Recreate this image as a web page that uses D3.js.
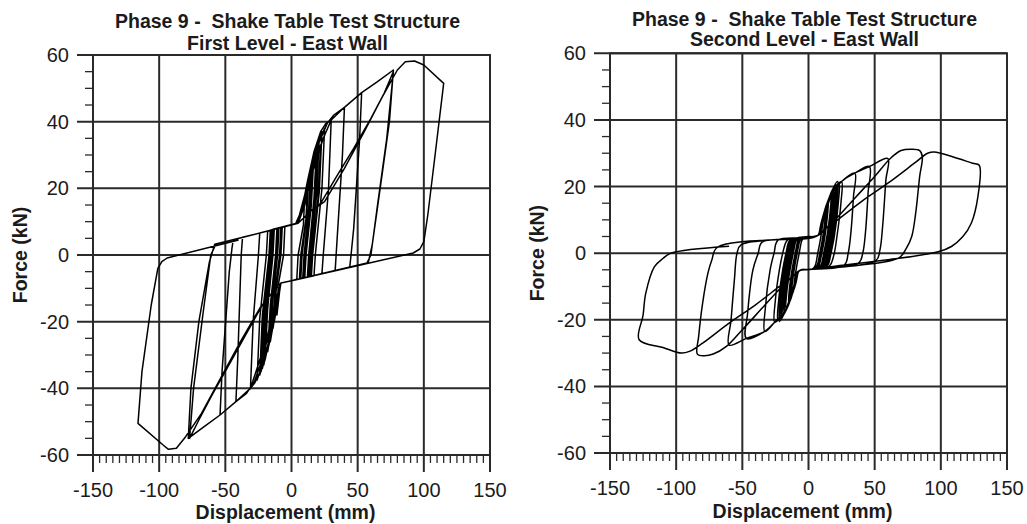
<!DOCTYPE html>
<html>
<head>
<meta charset="utf-8">
<script src="https://cdn.jsdelivr.net/npm/d3@7"></script>
<style>
  html, body { margin: 0; padding: 0; background: #fff; }
  svg { display: block; font-family: "Liberation Sans", Arial, sans-serif; }
  text { white-space: pre; }
</style>
</head>
<body>
<svg id="chart" width="1027" height="524"></svg>
<script>
// ---- data (displacement mm, force kN) ----
const xTicks = [-150, -100, -50, 0, 50, 100, 150];
const yTicks = [-60, -40, -20, 0, 20, 40, 60];
const titleLine1 = 'Phase 9 -  Shake Table Test Structure';
const panelTitles = ['First Level - East Wall', 'Second Level - East Wall'];
const xTitle = 'Displacement (mm)';
const yTitle = 'Force (kN)';

// first level: one loop per excitation cycle
const firstLevel = [
  [[-2,8.9],[3,9.3],[6,12],[8,15],[10,18],[9,9],[5,0],[4,-7.3],[0,-7.7],[-8,-8.4],[-9,-11],[-10,-14.5],[-11,-18],[-10,-9],[-6,0],[-5,8.6]],
  [[4,9.5],[6.5,12.5],[9,16],[12,20],[11,11],[7,0],[6,-7.2],[0,-7.7],[-8,-8.4],[-9.5,-11.5],[-11,-15.5],[-13,-20],[-11.5,-10],[-8,0],[-7,8.4]],
  [[4,9.5],[7,13],[10,18],[13,23],[11.5,12],[8,0],[7,-7.1],[0,-7.7],[-8,-8.4],[-10,-12],[-12,-17],[-14,-22],[-12.5,-11],[-9,0],[-8,8.3]],
  [[5,9.5],[8,14],[12,21],[15,27],[13,14],[9.5,0],[8.5,-7],[0,-7.7],[-8,-8.4],[-10,-12.5],[-13,-19],[-16,-26],[-14,-13],[-10.5,0],[-9.5,8.1]],
  [[5,9.5],[8.5,14.5],[12.5,22],[16,28],[14,14],[10.5,0],[9.5,-6.9],[0,-7.7],[-8,-8.4],[-10.5,-12.5],[-13.5,-20],[-17,-27],[-15,-14],[-11.5,0],[-10.5,8]],
  [[5,9.5],[9,15],[13,23],[17,30.5],[15,15],[11,0],[10,-6.8],[0,-7.7],[-8,-8.4],[-11,-13],[-14,-20],[-18,-29],[-16,-15],[-12,0],[-11,8]],
  [[5,9.5],[9,15.5],[14,25],[19,33],[17,17],[13,0],[12,-6.6],[0,-7.7],[-8,-8.4],[-11,-13.5],[-15,-22],[-20,-31.5],[-18,-16],[-14,0],[-13,7.8]],
  [[5,9.5],[9.5,16],[14.5,26],[20,34],[18,17.5],[13.5,0],[12.5,-6.6],[0,-7.7],[-8,-8.4],[-11.5,-13.5],[-15.5,-23],[-21,-33],[-19,-16.5],[-15,0],[-14,7.7]],
  [[5,9.5],[10,16.5],[15,27],[21,35.5],[19,18],[14.5,0],[13.5,-6.5],[0,-7.7],[-8,-8.4],[-12,-14],[-16,-24],[-22,-34],[-20,-17],[-15.5,0],[-14.5,7.6]],
  [[5,9.5],[10,16.5],[15.5,27],[22,33],[20,17],[15.5,0],[14.5,-6.4],[0,-7.7],[-8,-8.4],[-12,-14],[-16.5,-25],[-23,-35],[-21,-17.5],[-16.5,0],[-15.5,7.5]],
  [[5,9.5],[10,17],[16,29],[23,37],[21,19],[16,0],[15,-6.4],[0,-7.7],[-8,-8.4],[-12,-14.5],[-17,-26],[-24,-36],[-22,-18],[-17,0],[-16,7.4]],
  [[5,9.5],[11,18],[18,31],[25,38],[23,20],[18,0],[17,-6.2],[0,-7.7],[-8,-8.4],[-13,-15],[-18,-28],[-26,-37.5],[-24,-19],[-19,0],[-18,7.2]],
  [[5,9.5],[8,14],[12,22],[17,31],[22,37],[26,39.5],[30,40.5],[28,20],[24,0],[23,-5.6],[0,-7.7],[-8,-8.4],[-10,-12],[-14,-20],[-19,-29],[-24,-35.5],[-28,-38.5],[-31,-40],[-29,-20],[-25,0],[-24,6.6]],
  [[5,9.5],[9,15],[14,24],[20,33],[27,39.5],[32,42],[40,44.3],[38.5,30],[34.5,5],[33,-4.7],[0,-7.7],[-8,-8.4],[-11,-13],[-16,-22],[-22,-31],[-28,-38],[-34,-41.5],[-42,-44],[-40.5,-30],[-38,0],[-37,5.3]],
  [[5,9.5],[10,16],[16,26],[24,35],[30,40.5],[40,44.3],[53,48.7],[51.5,35],[47,8],[45,0],[44,-3.7],[0,-7.7],[-8,-8.4],[-12,-14],[-18,-24],[-26,-34],[-31,-40],[-42,-44],[-54,-48],[-52.5,-35],[-47,-5],[-45,2],[-44,4.6]],
  [[5,9.5],[10,15],[16,25],[24,35],[30,40.5],[40,44.3],[53,48.7],[65,52],[77,55.5],[74,40],[67,20],[61,3],[58,-2.3],[0,-7.7],[-8,-8.4],[-12,-14],[-18,-24],[-26,-34],[-31,-40],[-42,-44],[-54,-48],[-66,-51.5],[-78,-55],[-76,-40],[-70,-20],[-62,-2],[-58,3.2]],
  [[5,9.5],[14,13],[22,15.5],[34,23.5],[47,32],[60,41],[70,48.5],[77,55],[72,35],[65,15],[60,0],[57,-2.4],[0,-7.7],[-8,-8.4],[-15,-11.5],[-22,-15],[-34,-23.5],[-48,-33.5],[-60,-42],[-70,-49.5],[-77,-55],[-74,-40],[-67,-18],[-61,0],[-57,3.3]],
  [[5,9.5],[14,13],[25,16],[40,26],[55,37],[68,47],[80,55.5],[86,58],[93,58.2],[100,57],[115,51.5],[108.5,30],[103,12],[100,4],[97,1.8],[92,0.6],[0,-7.7],[-8,-8.4],[-15,-11.5],[-24,-16],[-40,-27],[-55,-38],[-68,-47.5],[-80,-54.5],[-87,-58],[-93,-58.3],[-97,-57],[-116,-50.5],[-113,-35],[-106,-15],[-101,-4],[-98,-2],[-94,-0.9],[-40,4.5]]
];

// second level
const secondLevel = [
  [[-3,4.9],[7,5.3],[9,8],[11,11],[10.5,8],[8.5,3],[7,0],[5,-3.8],[3,-4.7],[0,-4.9],[-7,-5.3],[-9,-8],[-11,-11],[-10.5,-8],[-8.5,-3],[-7,0],[-5,3.8],[-3,4.8]],
  [[7,5.3],[9.5,8.5],[11.5,11.5],[13,13.5],[12.5,10],[10,3],[8.5,0],[6.5,-3.7],[4,-4.6],[0,-4.9],[-7,-5.3],[-9.5,-8.5],[-11.5,-11.5],[-13,-13],[-12.5,-10],[-10,-3],[-8.5,0],[-6.5,3.7],[-4,4.8]],
  [[7,5.3],[9.5,9],[12,12.5],[14,15],[13.5,11],[11,3.5],[9,0],[7,-3.6],[5,-4.6],[0,-4.9],[-7,-5.3],[-9.5,-9],[-12,-12],[-14,-14.5],[-13.5,-10.5],[-11,-3.5],[-9,0],[-7,3.6],[-5,4.7]],
  [[7,5.3],[10,9],[12.5,13],[15,16],[14.5,12],[12,4],[10,0],[8,-3.6],[6,-4.5],[0,-4.9],[-7,-5.3],[-10,-9],[-12.5,-12.5],[-15,-15],[-14.5,-11],[-12,-4],[-10,0],[-8,3.6],[-6,4.7]],
  [[7,5.3],[10,9],[13.5,14],[17,18],[16.5,13],[13.5,4],[11.5,0],[9.5,-3.5],[7,-4.5],[0,-4.9],[-7,-5.3],[-10,-9.5],[-13.5,-13.5],[-17,-17],[-16.5,-12],[-13.5,-4],[-11.5,0],[-9.5,3.5],[-7,4.6]],
  [[7,5.3],[10.5,9.5],[14,14.5],[18,19],[17.5,13.5],[14.5,4.5],[12.5,0],[10,-3.5],[8,-4.5],[0,-4.9],[-7,-5.3],[-10.5,-9.5],[-14,-14],[-18,-18],[-17.5,-12.5],[-14.5,-4.5],[-12.5,0],[-10,3.5],[-8,4.6]],
  [[7,5.3],[10.5,9.5],[14.5,15],[19,19.5],[18.5,14],[15.5,5],[13.5,0],[11,-3.5],[9,-4.4],[0,-4.9],[-7,-5.3],[-10.5,-10],[-14.5,-14.5],[-19,-18.5],[-18.5,-13],[-15.5,-5],[-13.5,0],[-11,3.5],[-9,4.5]],
  [[7,5.3],[11,10],[15,16],[20,20],[19.5,14.5],[16.5,5],[14.5,0],[12,-3.4],[10,-4.3],[0,-4.9],[-7,-5.3],[-11,-10],[-15,-15.5],[-20,-19],[-19.5,-13.5],[-16.5,-5],[-14.5,0],[-12,3.4],[-10,4.4]],
  [[7,5.3],[11,10],[16,16.5],[21,20.5],[20.5,15],[17.5,5],[15.5,0],[13,-3.4],[11,-4.3],[0,-4.9],[-7,-5.3],[-11,-10.5],[-16,-16],[-21,-19.5],[-20.5,-14],[-17.5,-5],[-15.5,0],[-13,3.4],[-11,4.4]],
  [[7,5.3],[11.5,10.5],[16.5,17.5],[22,21.5],[21.5,15.5],[18.5,5],[16,0],[14,-3.3],[12,-4.2],[0,-4.9],[-7,-5.3],[-11.5,-10.5],[-16.5,-16.5],[-22,-20.5],[-21.5,-14.5],[-18.5,-5],[-16,0],[-14,3.3],[-12,4.3]],
  [[7,5.3],[11.5,10.5],[17,17.5],[23,21],[22.5,15],[19.5,5],[17,0],[15,-3.3],[13,-4.2],[0,-4.9],[-7,-5.3],[-11.5,-11],[-17,-17],[-23,-20],[-22.5,-14],[-19.5,-5],[-17,0],[-15,3.3],[-13,4.3]],
  [[7,5.3],[12,11],[18,18],[25,21.5],[24.5,15],[21.5,5],[19.5,0],[17,-3.2],[15,-4.1],[0,-4.9],[-7,-5.3],[-12,-11],[-18,-17.5],[-25.5,-20.7],[-25,-14],[-22,-5],[-19.5,0],[-17,3.3],[-15,4.2]],
  [[7,5.3],[12,11],[18,18],[25,21.5],[35,24],[34,17],[32,6],[30,0],[27,-3.6],[0,-4.9],[-7,-5.3],[-12,-11],[-18,-17.5],[-25.5,-20.7],[-33,-23.5],[-32.5,-16],[-29,-5],[-26,0],[-23,3.9]],
  [[7,5.3],[12,11],[18,18],[25,21.5],[35,24],[46,26],[45,18],[43,6],[41,0],[38,-2.9],[0,-4.9],[-7,-5.3],[-12,-11],[-18,-17.5],[-25.5,-20.7],[-33,-23.5],[-47,-25.6],[-46,-18],[-42,-5],[-38,0],[-35,3.3]],
  [[7,5.3],[12,11],[18,18],[25,21.5],[35,24],[46,26],[60,28.4],[58.5,22],[56,8],[54,1],[51,-2.2],[0,-4.9],[-7,-5.3],[-12,-11],[-18,-17.5],[-25.5,-20.7],[-33,-23.5],[-47,-25.6],[-60,-27.6],[-58.5,-20],[-56,-8],[-54,0],[-51,2.5]],
  [[7,5.3],[12,7],[20,10],[35,16.5],[50,23],[62,28.5],[70,30.8],[78,31.2],[84,30.8],[86,29],[84,23],[81,12],[78,5],[74,1.5],[68,-1.5],[0,-4.9],[-7,-5.3],[-12,-7],[-20,-10],[-35,-16.5],[-50,-23],[-62,-28],[-72,-30.3],[-79,-30.8],[-84,-30.3],[-83,-25],[-80,-15],[-76,-6],[-73,-2],[-69,1.7]],
  [[7,5.3],[12,7],[22,10],[40,15.5],[60,21],[80,27],[90,30],[95,30.4],[110,28.8],[124,27],[129,26.4],[128,17],[123,9],[116.5,4.9],[108,2],[98,0.4],[60,-2],[20,-3.9],[0,-4.9],[-7,-5.3],[-12,-7],[-22,-10],[-40,-15.5],[-60,-21],[-80,-27],[-90,-29.5],[-96,-30],[-110,-28.3],[-128,-26],[-125,-18.6],[-123,-12.1],[-116.5,-4.1],[-110,-1.6],[-104,0],[-60,2.1]]
];

// ---- layout ----
const panels = [
  { loops: firstLevel,  sub: panelTitles[0], x0: 93,  x1: 490,  y0: 55,   y1: 455, t1: 27.5, t2: 50, xt: 519, curve: d3.curveLinear },
  { loops: secondLevel, sub: panelTitles[1], x0: 610, x1: 1007, y0: 53.3, y1: 453, t1: 26,   t2: 46, xt: 518, curve: d3.curveCatmullRom.alpha(0.5) }
];

const svg = d3.select('#chart');
const INK = '#1b1b1b';
const GRID = '#2a2a2a';

panels.forEach(p => {
  const x = d3.scaleLinear().domain([-150, 150]).range([p.x0, p.x1]);
  const y = d3.scaleLinear().domain([-60, 60]).range([p.y1, p.y0]);
  const g = svg.append('g');
  const cx = (p.x0 + p.x1) / 2;

  // grid (major lines run out past the frame as the major ticks)
  g.selectAll('line.vg').data(xTicks).join('line').attr('class', 'vg')
    .attr('x1', d => x(d)).attr('x2', d => x(d)).attr('y1', p.y0).attr('y2', p.y1 + 17)
    .attr('stroke', GRID).attr('stroke-width', 2);
  g.selectAll('line.hg').data(yTicks).join('line').attr('class', 'hg')
    .attr('x1', p.x0 - 16).attr('x2', p.x1).attr('y1', d => y(d)).attr('y2', d => y(d))
    .attr('stroke', GRID).attr('stroke-width', 2);

  // minor ticks every 5
  g.selectAll('line.mx').data(d3.range(-150, 151, 5).filter(v => v % 50)).join('line').attr('class', 'mx')
    .attr('x1', d => x(d)).attr('x2', d => x(d)).attr('y1', p.y1).attr('y2', p.y1 + 8)
    .attr('stroke', GRID).attr('stroke-width', 1.3);
  g.selectAll('line.my').data(d3.range(-60, 61, 5).filter(v => v % 20)).join('line').attr('class', 'my')
    .attr('x1', p.x0 - 8).attr('x2', p.x0).attr('y1', d => y(d)).attr('y2', d => y(d))
    .attr('stroke', GRID).attr('stroke-width', 1.3);

  // frame
  g.append('rect').attr('x', p.x0).attr('y', p.y0).attr('width', p.x1 - p.x0).attr('height', p.y1 - p.y0)
    .attr('fill', 'none').attr('stroke', GRID).attr('stroke-width', 2);

  // hysteresis trace
  const line = d3.line().x(d => x(d[0])).y(d => y(d[1])).curve(p.curve);
  g.append('path').datum(d3.merge(p.loops)).attr('d', line)
    .attr('fill', 'none').attr('stroke', '#000').attr('stroke-width', 1.5).attr('stroke-linejoin', 'round');

  // tick labels
  g.selectAll('text.xl').data(xTicks).join('text').attr('class', 'xl')
    .attr('x', d => x(d)).attr('y', p.y1 + 42).attr('text-anchor', 'middle')
    .attr('font-size', 20).attr('fill', INK).text(d => d);
  g.selectAll('text.yl').data(yTicks).join('text').attr('class', 'yl')
    .attr('x', p.x0 - 24).attr('y', d => y(d) + 7).attr('text-anchor', 'end')
    .attr('font-size', 20).attr('fill', INK).text(d => d);

  // titles
  g.append('text').attr('x', cx - 4).attr('y', p.t1).attr('text-anchor', 'middle')
    .attr('font-size', 19.5).attr('font-weight', 'bold').attr('fill', INK).text(titleLine1);
  g.append('text').attr('x', cx - 4).attr('y', p.t2).attr('text-anchor', 'middle')
    .attr('font-size', 19.5).attr('font-weight', 'bold').attr('fill', INK).text(p.sub);
  g.append('text').attr('x', cx - 6).attr('y', p.xt).attr('text-anchor', 'middle')
    .attr('font-size', 19.5).attr('font-weight', 'bold').attr('fill', INK).text(xTitle);
  g.append('text').attr('transform', `translate(${p.x0 - 66},${(p.y0 + p.y1) / 2}) rotate(-90)`)
    .attr('text-anchor', 'middle').attr('font-size', 19.5).attr('font-weight', 'bold').attr('fill', INK).text(yTitle);
});
</script>
</body>
</html>
